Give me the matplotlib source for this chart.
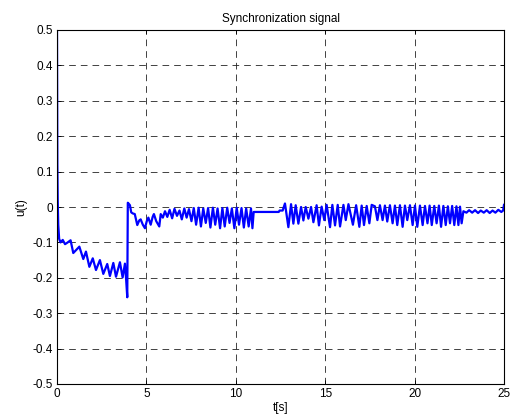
import numpy as np
import matplotlib
matplotlib.use('Agg')
import matplotlib.pyplot as plt

plt.rcParams['font.family'] = ['Liberation Sans', 'DejaVu Sans']

# ===============================
# Data
# ===============================
# start: spike, then descending sawtooth, then jump at ~4 s
t_start = [0, 0.02, 0.04, 0.07, 0.12, 0.2, 0.32, 0.45, 0.6, 0.76, 0.91, 1.1, 1.25, 1.47,
           1.62, 1.81, 2.0, 2.18, 2.4, 2.59, 2.81, 2.96, 3.15, 3.3, 3.52, 3.67,
           3.8, 3.86, 3.93, 3.96]
u_start = [0.5, 0.12, 0.02, -0.05, -0.09, -0.1, -0.093, -0.105, -0.1, -0.094, -0.13, -0.12,
           -0.112, -0.147, -0.126, -0.169, -0.145, -0.178, -0.15, -0.189, -0.161,
           -0.195, -0.158, -0.197, -0.156, -0.199, -0.16, -0.2, -0.255, 0.012]

# settling after the jump
t_settle = [4.0, 4.08, 4.15, 4.23, 4.35, 4.49, 4.6, 4.68, 4.8, 4.92, 5.02, 5.11,
            5.24, 5.35, 5.42, 5.55, 5.72, 5.8, 5.92]
u_settle = [0.01, 0.005, -0.015, -0.018, -0.02, -0.051, -0.038, -0.035, -0.05,
            -0.06, -0.04, -0.03, -0.05, -0.028, -0.02, -0.04, -0.055, -0.02, -0.03]

# first oscillation band 6 - 11 s
t_osc1 = [6.04, 6.17, 6.3, 6.44, 6.57, 6.71, 6.85, 6.98, 7.12, 7.25, 7.38, 7.52,
          7.65, 7.78, 7.92, 8.05, 8.18, 8.32, 8.45, 8.58, 8.72, 8.85, 8.98, 9.12,
          9.25, 9.38, 9.52, 9.65, 9.78, 9.92, 10.05, 10.18, 10.32, 10.45, 10.58,
          10.72, 10.85, 10.93]
u_osc1 = [-0.012, -0.028, -0.008, -0.032, -0.005, -0.025, -0.01, -0.035, -0.004,
          -0.03, -0.006, -0.04, -0.003, -0.05, -0.002, -0.055, -0.004, -0.045,
          -0.003, -0.058, -0.002, -0.05, -0.004, -0.06, -0.003, -0.055, -0.002,
          -0.045, -0.004, -0.06, -0.002, -0.05, -0.003, -0.058, -0.004, -0.055,
          -0.004, -0.06]

# flat part
t_flat = [11.0, 12.4, 12.45, 12.62]
u_flat = [-0.014, -0.014, -0.01, -0.01]

# second oscillation band 12.7 - 22.7 s
t_osc2 = [12.75, 12.94, 13.09, 13.22, 13.35, 13.5, 13.65, 13.78, 13.91, 14.06,
          14.21, 14.34, 14.52, 14.65, 14.8, 14.95, 15.08, 15.27, 15.4, 15.55,
          15.7, 15.83, 16.02, 16.15, 16.3, 16.55, 16.73, 16.91, 17.04, 17.17,
          17.32, 17.47, 17.6, 17.78, 17.92, 18.06, 18.21, 18.34, 18.47, 18.62,
          18.77, 18.9, 19.03, 19.18, 19.33, 19.46, 19.59, 19.74, 19.89, 20.02,
          20.15, 20.3, 20.45, 20.58, 20.72, 20.84, 20.96, 21.1, 21.23, 21.36,
          21.48, 21.61, 21.74, 21.86, 21.98, 22.1, 22.22, 22.34, 22.45, 22.54,
          22.63]
u_osc2 = [0.01, -0.057, 0.008, -0.047, 0.005, -0.047, 0.0, -0.038, 0.0, -0.033,
          0.0, -0.043, 0.005, -0.052, 0.001, -0.037, 0.006, -0.057, 0.006, -0.052,
          0.006, -0.055, 0.006, -0.037, 0.008, -0.05, 0.005, -0.056, 0.004, -0.051,
          0.003, -0.046, 0.006, 0.002, -0.037, 0.005, -0.037, 0.004, -0.041, 0.005,
          -0.046, 0.004, -0.051, 0.005, -0.056, 0.004, -0.037, 0.005, -0.051,
          0.004, -0.056, 0.004, -0.051, 0.003, -0.046, 0.004, -0.051, 0.003,
          -0.046, 0.004, -0.056, 0.003, -0.051, 0.002, -0.046, 0.003, -0.051,
          0.002, -0.051, 0.001, -0.046]

# small wiggle at the end
t_tail = [22.73, 22.9, 23.05, 23.22, 23.38, 23.55, 23.7, 23.87, 24.03, 24.2,
          24.36, 24.52, 24.68, 24.85, 24.95, 25.0]
u_tail = [-0.012, -0.016, -0.009, -0.016, -0.009, -0.017, -0.01, -0.016, -0.009,
          -0.017, -0.01, -0.016, -0.008, -0.014, -0.01, 0.006]

t = np.concatenate([t_start, t_settle, t_osc1, t_flat, t_osc2, t_tail])
u = np.concatenate([u_start, u_settle, u_osc1, u_flat, u_osc2, u_tail])

x_ticks = [0, 5, 10, 15, 20, 25]
y_ticks = [-0.5, -0.4, -0.3, -0.2, -0.1, 0, 0.1, 0.2, 0.3, 0.4, 0.5]
y_labels = ['-0.5', '-0.4', '-0.3', '-0.2', '-0.1', '0', '0.1', '0.2', '0.3', '0.4', '0.5']

# ===============================
# Plot
# ===============================
fig = plt.figure(figsize=(5.12, 4.2), dpi=100)
ax = fig.add_axes([57 / 512, 1 - 384 / 420, 447 / 512, 354 / 420])

ax.plot(t, u, color='#0000ff', linewidth=1.6)

ax.set_xlim(0, 25)
ax.set_ylim(-0.5, 0.5)
ax.set_xticks(x_ticks)
ax.set_xticklabels([str(v) for v in x_ticks])
ax.set_yticks(y_ticks)
ax.set_yticklabels(y_labels)

ax.grid(True, color='#222222', linestyle=(0, (8, 6)), linewidth=0.6)
ax.tick_params(direction='in', top=True, right=True, length=3, width=0.6,
               labelsize=8.5, pad=3)
for sp in ax.spines.values():
    sp.set_linewidth(0.8)

ax.set_title('Synchronization signal', fontsize=8.5, pad=6)
ax.set_xlabel('t[s]', fontsize=8.5, labelpad=1)
ax.set_ylabel('u(t)', fontsize=8.5, labelpad=4)

fig.savefig('out.png', dpi=100)
